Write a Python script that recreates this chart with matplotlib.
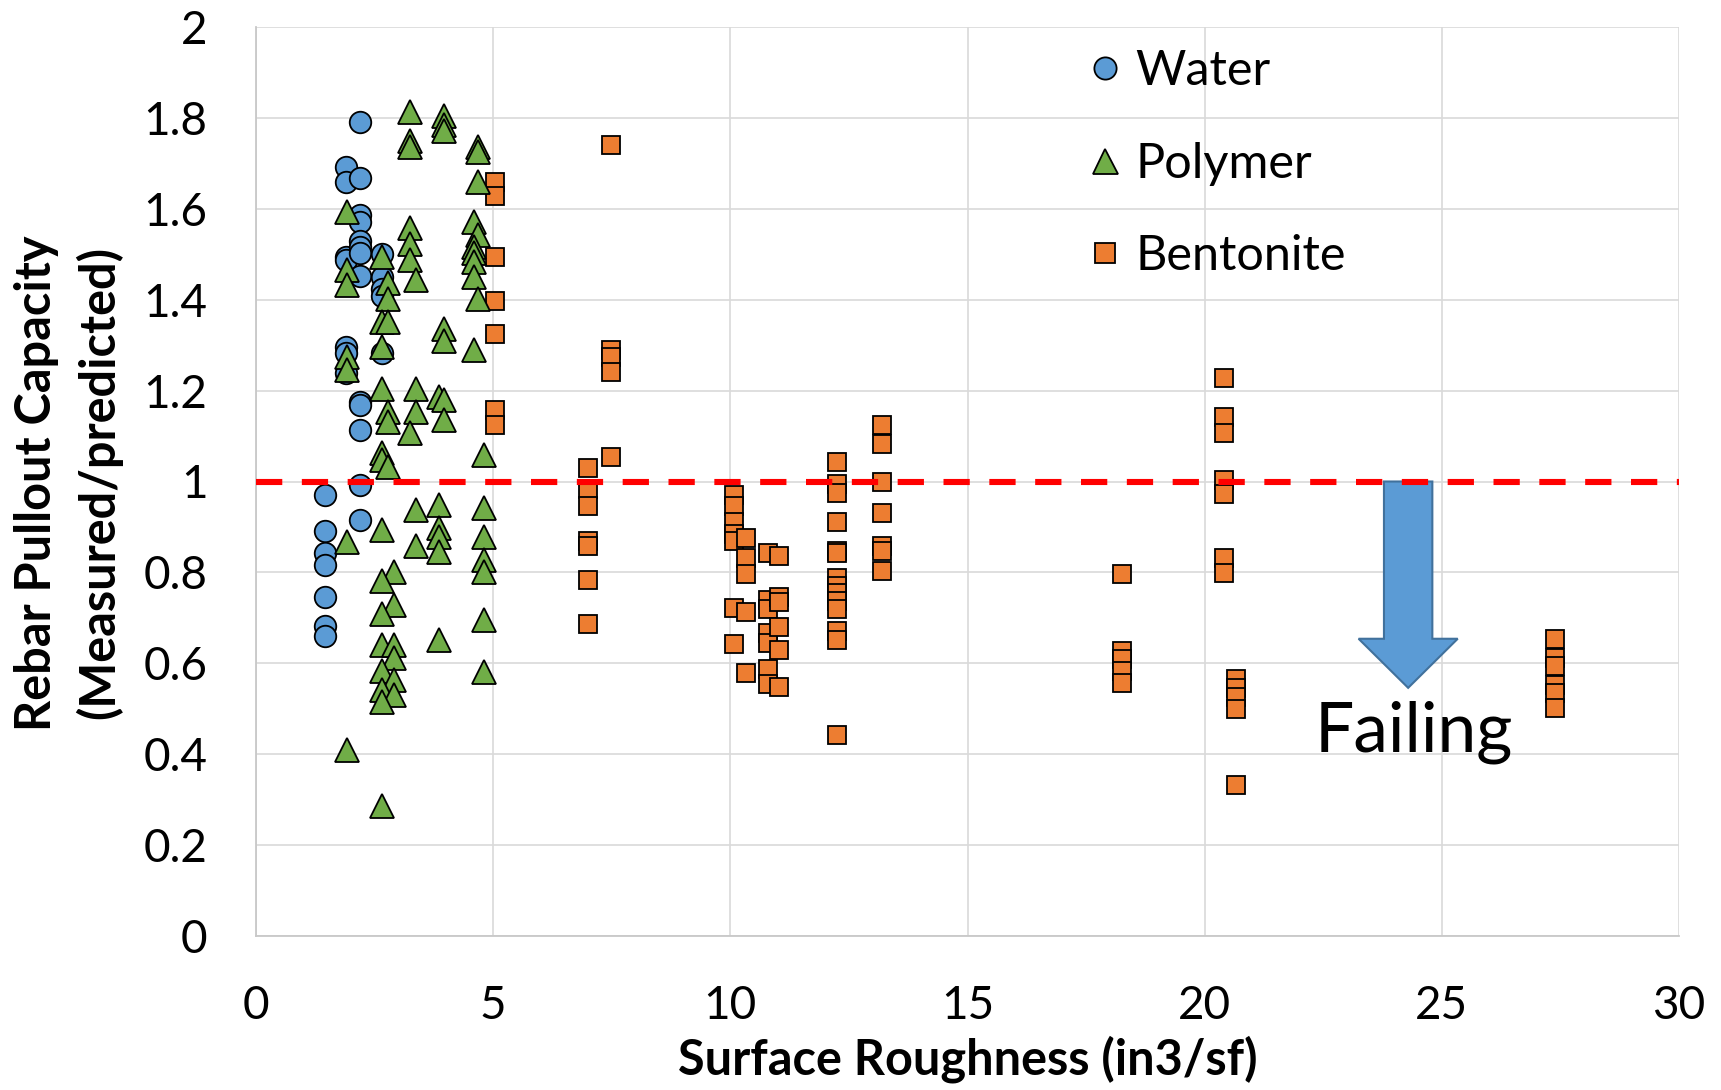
import matplotlib.pyplot as plt
from matplotlib.lines import Line2D
from matplotlib.patches import FancyArrow

plt.rcParams['font.family'] = ['Lato', 'DejaVu Sans']

# water-based slurry
water_x = [1.45] * 7 + [1.9] * 7 + [2.2] * 13 + [2.66] * 5
water_y = [0.971, 0.891, 0.843, 0.816, 0.746, 0.681, 0.659,
           1.693, 1.659, 1.495, 1.488, 1.295, 1.283, 1.239,
           1.790, 1.667, 1.587, 1.572, 1.529, 1.517, 1.502, 1.452, 1.174, 1.169, 1.114, 0.993, 0.915,
           1.500, 1.449, 1.423, 1.408, 1.283]

# polymer slurry
polymer_x = [3.25, 3.97, 3.97, 3.97, 3.25, 3.25, 4.69, 4.69, 4.69, 1.92,
             3.25, 3.25, 3.25, 3.38, 4.60, 4.69, 4.60, 4.60, 4.60, 4.60,
             4.69, 1.92, 1.92, 2.66, 2.79, 2.79, 2.66, 2.79, 2.66, 1.92,
             1.92, 3.97, 3.97, 4.60, 2.66, 3.38, 3.85, 3.97, 2.79, 2.79,
             3.38, 3.97, 3.25, 4.80, 2.66, 2.66, 2.79, 3.38, 3.85, 3.85,
             3.85, 3.85, 4.80, 4.80, 4.80, 4.80, 2.66, 1.92, 3.38, 2.90,
             2.66, 2.90, 2.66, 4.80, 3.85, 2.66, 2.90, 2.90, 2.66, 2.90,
             2.66, 2.90, 2.66, 4.80, 1.92, 2.66]
polymer_y = [1.812, 1.805, 1.785, 1.772, 1.749, 1.737, 1.737, 1.725, 1.659, 1.592,
             1.558, 1.522, 1.488, 1.444, 1.572, 1.543, 1.517, 1.502, 1.483, 1.449,
             1.401, 1.466, 1.432, 1.495, 1.437, 1.401, 1.350, 1.350, 1.297, 1.275,
             1.246, 1.336, 1.309, 1.290, 1.203, 1.203, 1.187, 1.180, 1.152, 1.130,
             1.152, 1.135, 1.107, 1.059, 1.063, 1.048, 1.033, 0.938, 0.949, 0.898,
             0.877, 0.845, 0.942, 0.877, 0.828, 0.800, 0.894, 0.867, 0.857, 0.800,
             0.780, 0.729, 0.708, 0.696, 0.652, 0.640, 0.640, 0.612, 0.582, 0.564,
             0.542, 0.531, 0.515, 0.580, 0.410, 0.285]

# bentonite slurry
bent_x = ([5.04] * 7 + [7.48] * 5 + [6.99] * 7 + [10.08] * 7 + [10.32] * 5
          + [10.8] * 7 + [11.03] * 6 + [12.24] * 14 + [13.2] * 7 + [18.25] * 5
          + [20.4] * 7 + [20.66] * 5 + [27.38] * 6)
bent_y = [1.659, 1.628, 1.493, 1.398, 1.324, 1.158, 1.125,
          1.740, 1.290, 1.275, 1.240, 1.054,
          1.029, 0.983, 0.945, 0.870, 0.858, 0.783, 0.687,
          0.970, 0.945, 0.910, 0.885, 0.870, 0.722, 0.642,
          0.875, 0.832, 0.797, 0.712, 0.579,
          0.842, 0.740, 0.720, 0.667, 0.645, 0.588, 0.555,
          0.837, 0.745, 0.735, 0.680, 0.630, 0.547,
          1.044, 0.995, 0.974, 0.910, 0.848, 0.843, 0.788, 0.770, 0.755, 0.736, 0.720, 0.670, 0.652, 0.443,
          1.125, 1.083, 1.000, 0.930, 0.857, 0.846, 0.804,
          0.797, 0.628, 0.609, 0.582, 0.556,
          1.227, 1.143, 1.106, 1.004, 0.973, 0.832, 0.799,
          0.565, 0.545, 0.525, 0.500, 0.332,
          0.654, 0.611, 0.593, 0.553, 0.534, 0.501]

x_ticks = [0, 5, 10, 15, 20, 25, 30]
y_ticks = [0, 0.2, 0.4, 0.6, 0.8, 1, 1.2, 1.4, 1.6, 1.8, 2]
y_tick_labels = ['0', '0.2', '0.4', '0.6', '0.8', '1', '1.2', '1.4', '1.6', '1.8', '2']

blue = '#5b9bd5'
green = '#70ad47'
orange = '#ed7d31'
grid_c = '#d9d9d9'

fig = plt.figure(figsize=(17.21, 10.9), dpi=100)
ax = fig.add_axes([256 / 1721, 1 - 936 / 1090, 1423 / 1721, 909 / 1090])

ax.set_xlim(0, 30)
ax.set_ylim(0, 2)
ax.set_xticks(x_ticks)
ax.set_yticks(y_ticks)
ax.set_yticklabels(y_tick_labels)
ax.tick_params(length=0, labelsize=33, pad=35)
ax.grid(True, color=grid_c, lw=1.2)
ax.set_axisbelow(True)
for s in ['top', 'right']:
    ax.spines[s].set_visible(False)
for s in ['left', 'bottom']:
    ax.spines[s].set_color('#c8c8c8')
    ax.spines[s].set_linewidth(1.3)

ax.plot(water_x, water_y, 'o', ms=15.5, mfc=blue, mec='black', mew=1.3, ls='none', zorder=3)
ax.plot(polymer_x, polymer_y, '^', ms=17, mfc=green, mec='black', mew=1.3, ls='none', zorder=4)
ax.plot(bent_x, bent_y, 's', ms=13.5, mfc=orange, mec='black', mew=1.3, ls='none', zorder=3)

# failing arrow and label
ax.add_patch(FancyArrow(24.29, 1.0, 0, -0.454, width=1.02, head_width=2.09,
                        head_length=0.108, length_includes_head=True,
                        fc=blue, ec='#41719c', lw=1.5, zorder=5))
ax.text(24.40, 0.406, 'Failing', fontsize=50, ha='center', va='baseline', zorder=7)

# pass/fail threshold, drawn over the arrow
ax.axhline(1.0, color='red', lw=4.4, ls=(0, (4.3, 3.2)), zorder=6)

handles = [
    Line2D([], [], marker='o', ls='none', ms=16, mfc=blue, mec='black', mew=1.3),
    Line2D([], [], marker='^', ls='none', ms=18, mfc=green, mec='black', mew=1.3),
    Line2D([], [], marker='s', ls='none', ms=14, mfc=orange, mec='black', mew=1.3),
]
ax.legend(handles, ['Water', 'Polymer', 'Bentonite'], loc='upper left',
          bbox_to_anchor=(0.5675, 0.997), frameon=False, fontsize=35,
          handletextpad=0.18, labelspacing=1.0, handlelength=0.9, borderaxespad=0)

ax.set_xlabel('Surface Roughness (in3/sf)', fontsize=35, fontweight='bold', labelpad=6)
fig.text(37 / 1721, 0.557, 'Rebar Pullout Capacity', rotation=90, fontsize=35,
         fontweight='bold', ha='center', va='center')
fig.text(99 / 1721, 0.557, '(Measured/predicted)', rotation=90, fontsize=35,
         fontweight='bold', ha='center', va='center')

fig.savefig('out.png', dpi=100)
